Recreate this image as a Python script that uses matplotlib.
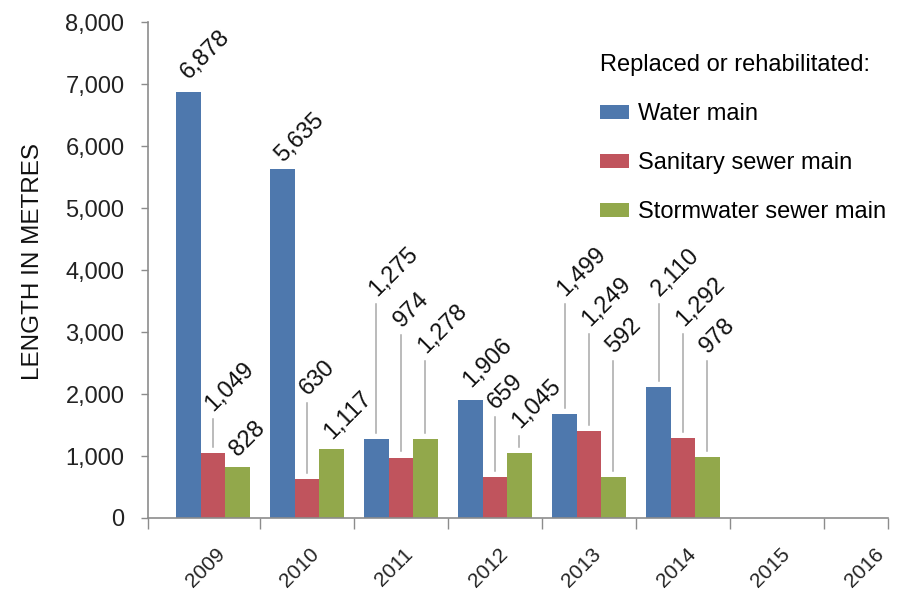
import matplotlib
matplotlib.use("Agg")
import matplotlib.pyplot as plt
import matplotlib.transforms as mtransforms
import numpy as np

plt.rcParams["font.family"] = ["Liberation Sans", "DejaVu Sans"]

years = ["2009", "2010", "2011", "2012", "2013", "2014", "2015", "2016"]
series = ["Water main", "Sanitary sewer main", "Stormwater sewer main"]

# bar heights as drawn (2013 bars do not match their printed labels in the source)
water = [6878, 5635, 1275, 1906, 1680, 2110]
sanitary = [1049, 630, 974, 659, 1400, 1292]
storm = [828, 1117, 1278, 1045, 660, 978]

water_text = ["6,878", "5,635", "1,275", "1,906", "1,499", "2,110"]
sanitary_text = ["1,049", "630", "974", "659", "1,249", "1,292"]
storm_text = ["828", "1,117", "1,278", "1,045", "592", "978"]

# where each data label starts (y, data units)
water_label_y = [7065, 5726, 3565, 2097, 3565, 3565]
sanitary_label_y = [1710, 1968, 3065, 1742, 3081, 3081]
storm_label_y = [984, 1258, 2645, 1435, 2645, 2645]

colors = ["#4E78AD", "#C0545D", "#92A84B"]
GRAY = "#8C8C8C"
LEADER = "#A8A8A8"

W, H = 907, 593
fig = plt.figure(figsize=(W / 100, H / 100), dpi=100)
ax = fig.add_axes([148 / W, 75 / H, 740 / W, 496 / H])

x = np.arange(len(years))
bw = 0.26
groups = [
    (water, water_text, water_label_y),
    (sanitary, sanitary_text, sanitary_label_y),
    (storm, storm_text, storm_label_y),
]
for k, (vals, texts, label_y) in enumerate(groups):
    xs = x[:len(vals)] + (k - 1) * bw
    ax.bar(xs, vals, width=bw, color=colors[k], label=series[k], zorder=2)
    for xc, v, t, ly in zip(xs, vals, texts, label_y):
        lo = v + 100
        hi = ly - 113
        if hi > lo:
            ax.plot([xc, xc], [lo, hi], color=LEADER, lw=1.1, zorder=1)
        ax.annotate(t, xy=(xc, ly), xytext=(0.5, 0), textcoords="offset points",
                    rotation=45, rotation_mode="anchor", ha="left", va="baseline",
                    fontsize=17, color="#111111")

ax.set_xlim(-0.69, 7.18)
ax.set_ylim(0, 8000)

ax.set_yticks(range(0, 8001, 1000))
ax.set_yticklabels([f"{v:,}" for v in range(0, 8001, 1000)])
ax.tick_params(axis="y", length=5, width=1, color=GRAY, pad=12, labelsize=17, labelcolor="#222222")

# category boundaries as major ticks, year labels on minor ticks
bounds = [-0.69] + [i + 0.5 for i in range(7)] + [7.18]
ax.set_xticks(bounds)
ax.set_xticklabels([])
ax.tick_params(axis="x", which="major", length=8, width=1, color=GRAY)
ax.set_xticks(x, minor=True)
ax.set_xticklabels(years, minor=True, rotation=45, ha="right", rotation_mode="anchor")
ax.tick_params(axis="x", which="minor", length=0, pad=19, labelsize=15, labelcolor="#222222")
shift = mtransforms.ScaledTranslation(2 / 72, 0, fig.dpi_scale_trans)
for lbl in ax.get_xticklabels(minor=True):
    lbl.set_transform(lbl.get_transform() + shift)

for side in ["top", "right"]:
    ax.spines[side].set_visible(False)
for side in ["left", "bottom"]:
    ax.spines[side].set_color(GRAY)
    ax.spines[side].set_linewidth(1.2)

fig.text(33 / W, 1 - 261 / H, "LENGTH IN METRES", rotation=90, ha="center", va="center",
         fontsize=17.5, color="#111111")

ax.legend(title="Replaced or rehabilitated:", loc="upper left",
          bbox_to_anchor=(600 / W, 1 - 54 / H), bbox_transform=fig.transFigure,
          frameon=False, fontsize=17, title_fontsize=17, alignment="left",
          borderpad=0, borderaxespad=0, handlelength=1.23, handleheight=0.55,
          handletextpad=0.38, labelspacing=1.15)

fig.savefig("out.png", dpi=100)
